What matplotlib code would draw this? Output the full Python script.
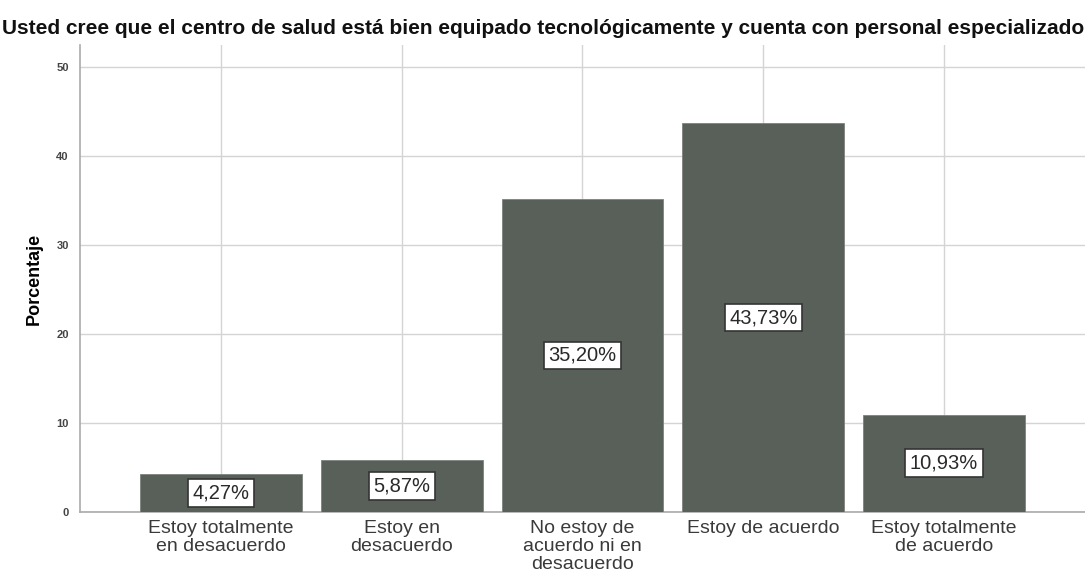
import matplotlib
matplotlib.use("Agg")
import matplotlib.pyplot as plt

categories = [
    "Estoy totalmente\nen desacuerdo",
    "Estoy en\ndesacuerdo",
    "No estoy de\nacuerdo ni en\ndesacuerdo",
    "Estoy de acuerdo",
    "Estoy totalmente\nde acuerdo",
]
percentages = [4.27, 5.87, 35.20, 43.73, 10.93]
yticks = [0, 10, 20, 30, 40, 50]

plt.rcParams["font.family"] = ["Liberation Sans", "DejaVu Sans"]

fig = plt.figure(figsize=(10.85, 5.8), dpi=100)
ax = fig.add_axes([0.0737, 0.1172, 0.9263, 0.8052])

x = range(len(categories))
bars = ax.bar(x, percentages, width=0.895, color="#596059",
              edgecolor="#7d827e", linewidth=0.6, zorder=3)

for xi, v in zip(x, percentages):
    label = f"{v:.2f}%".replace(".", ",")
    ax.text(xi, v / 2, label, ha="center", va="center", fontsize=14.5,
            color="#2a2a2a", zorder=4,
            bbox=dict(boxstyle="square,pad=0.22", fc="white", ec="#333333", lw=1.2))

ax.set_xlim(-0.78, 4.78)
ax.set_ylim(0, 52.5)
ax.set_xticks(list(x))
ax.set_xticklabels(categories, fontsize=14, color="#3a3a3a", linespacing=1.05)
ax.set_yticks(yticks)
ax.set_yticklabels([str(t) for t in yticks], fontsize=8, color="#444444",
                   fontweight="bold")
ax.tick_params(axis="both", length=0)
ax.tick_params(axis="x", pad=6)
ax.tick_params(axis="y", pad=8)

ax.grid(True, color="#d4d4d4", linewidth=1.0, zorder=0)
for side in ["top", "right"]:
    ax.spines[side].set_visible(False)
ax.spines["left"].set_color("#aaaaaa")
ax.spines["bottom"].set_color("#aaaaaa")
ax.spines["left"].set_linewidth(1.2)
ax.spines["bottom"].set_linewidth(1.2)

ax.set_ylabel("Porcentaje", fontsize=13, fontweight="bold", labelpad=10)
fig.text(0.5005, 0.951,
         "Usted cree que el centro de salud está bien equipado tecnológicamente y cuenta con personal especializado",
         ha="center", va="center", fontsize=15.0, fontweight="bold", color="#111111")

fig.savefig("out.png", dpi=100)
